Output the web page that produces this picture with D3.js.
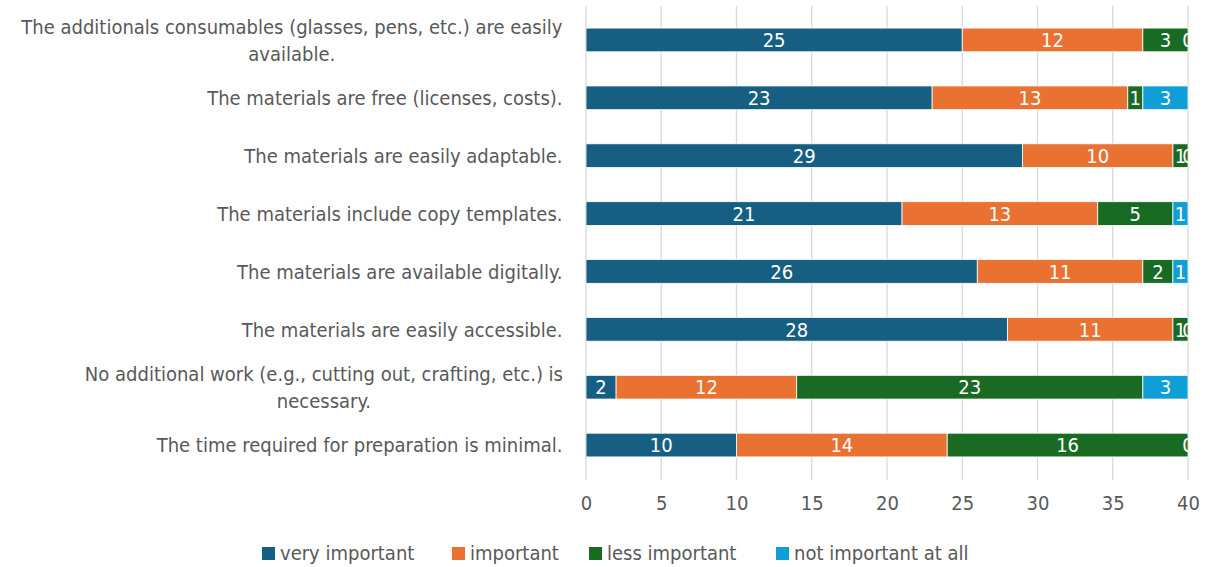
<!DOCTYPE html>
<html>
<head>
<meta charset="utf-8">
<script src="https://cdn.jsdelivr.net/npm/d3@7"></script>
<style>
  body { margin: 0; background: #fff; }
  text { font-family: "DejaVu Sans Condensed", "DejaVu Sans", sans-serif; }
</style>
</head>
<body>
<script>
var categories = [
  ["The additionals consumables (glasses, pens, etc.) are easily", "available."],
  ["The materials are free (licenses, costs)."],
  ["The materials are easily adaptable."],
  ["The materials include copy templates."],
  ["The materials are available digitally."],
  ["The materials are easily accessible."],
  ["No additional work (e.g., cutting out, crafting, etc.) is", "necessary."],
  ["The time required for preparation is minimal."]
];
var seriesNames = ["very important", "important", "less important", "not important at all"];
var veryImportant = [25, 23, 29, 21, 26, 28, 2, 10];
var important = [12, 13, 10, 13, 11, 11, 12, 14];
var lessImportant = [3, 1, 1, 5, 2, 1, 23, 16];
var notImportant = [0, 3, 0, 1, 1, 0, 3, 0];
var xTicks = [0, 5, 10, 15, 20, 25, 30, 35, 40];
var colors = ["#175f82", "#e97132", "#196b24", "#0f9ed5"];

var rows = categories.map(function (c, i) {
  return { i: i, "very important": veryImportant[i], "important": important[i],
    "less important": lessImportant[i], "not important at all": notImportant[i] };
});

var width = 1206, height = 567;
var fs = 20;
var svg = d3.select("body").append("svg")
  .attr("width", width)
  .attr("height", height);

var x = d3.scaleLinear().domain([0, 40]).range([586, 1188]);
var y = d3.scaleBand().domain(d3.range(categories.length)).range([11, 474])
  .paddingInner(0.59).paddingOuter(0.295);

// gridlines
svg.selectAll("line.grid")
  .data(xTicks)
  .enter()
  .append("line")
  .attr("x1", function (d) { return x(d); })
  .attr("x2", function (d) { return x(d); })
  .attr("y1", 6)
  .attr("y2", 480)
  .attr("stroke", "#d9d9d9")
  .attr("stroke-width", 1.3);

svg.append("defs").append("clipPath").attr("id", "plot")
  .append("rect").attr("x", 586).attr("y", 0).attr("width", 602.5).attr("height", 490);

var stack = d3.stack().keys(seriesNames)(rows);

var layers = svg.append("g").attr("clip-path", "url(#plot)")
  .selectAll("g.layer")
  .data(stack)
  .enter()
  .append("g")
  .attr("fill", function (d, i) { return colors[i]; });

layers.selectAll("rect")
  .data(function (d) { return d; })
  .enter()
  .append("rect")
  .attr("x", function (d) { return x(d[0]); })
  .attr("width", function (d) { return x(d[1]) - x(d[0]); })
  .attr("y", function (d) { return y(d.data.i); })
  .attr("height", y.bandwidth())
  .attr("stroke", "#fff")
  .attr("stroke-width", 0.8);

var labels = svg.append("g").attr("clip-path", "url(#plot)");
stack.forEach(function (layer) {
  layer.forEach(function (d) {
    labels.append("text")
      .attr("x", (x(d[0]) + x(d[1])) / 2)
      .attr("y", y(d.data.i) + y.bandwidth() / 2)
      .attr("dy", "0.36em")
      .attr("text-anchor", "middle")
      .attr("fill", "#fff")
      .attr("font-size", fs)
      .text(d[1] - d[0]);
  });
});

// category labels, centred lines in a right-aligned block
categories.forEach(function (lines, i) {
  var cy = y(i) + y.bandwidth() / 2;
  var t = svg.append("text").attr("font-size", fs).attr("fill", "#595959").attr("text-anchor", "middle");
  var lh = 27;
  var y0 = cy - (lines.length - 1) * lh / 2;
  lines.forEach(function (l, k) {
    t.append("tspan").attr("x", 0).attr("y", y0 + k * lh).attr("dy", "0.36em").text(l);
  });
  var w = t.node().getBBox().width;
  t.attr("transform", "translate(" + (563 - w / 2) + ",0)");
});

// x axis
var xAxis = d3.axisBottom(x).tickValues(xTicks).tickSize(0).tickPadding(0);
var ax = svg.append("g").attr("transform", "translate(0,496)").call(xAxis);
ax.select(".domain").remove();
ax.selectAll("text").attr("font-size", fs).attr("fill", "#595959")
  .attr("font-family", "DejaVu Sans Condensed, sans-serif").attr("dy", "0.36em").attr("y", 7);

// legend
var legendX = [262, 452, 589, 776];
var legend = svg.selectAll("g.legend")
  .data(seriesNames)
  .enter()
  .append("g")
  .attr("transform", function (d, i) { return "translate(" + legendX[i] + ",553)"; });
legend.append("rect")
  .attr("x", 0).attr("y", -6).attr("width", 13).attr("height", 13)
  .attr("fill", function (d, i) { return colors[i]; });
legend.append("text")
  .attr("x", 18).attr("dy", "0.36em")
  .attr("font-size", fs).attr("fill", "#595959")
  .text(function (d) { return d; });
</script>
</body>
</html>
